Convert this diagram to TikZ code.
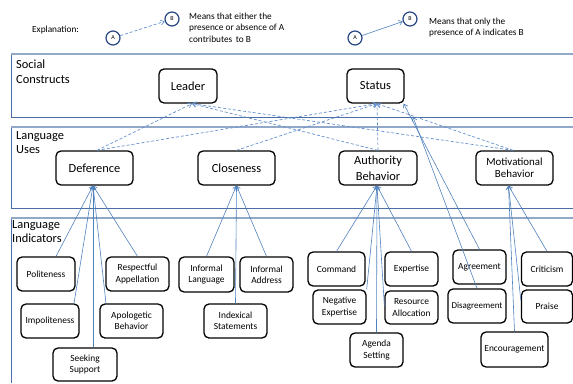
\documentclass[tikz,border=0pt]{standalone}
\usepackage{fontspec}
\setmainfont{Carlito}
\usetikzlibrary{arrows.meta}
\definecolor{lineblue}{RGB}{79,129,189}
\definecolor{dashblue}{RGB}{100,145,205}
\definecolor{paneltop}{RGB}{145,168,200}
\definecolor{paneledge}{RGB}{75,110,165}
\definecolor{circblue}{RGB}{40,70,130}
\tikzset{
 box/.style={draw=black, line width=1.3pt, rounded corners=5pt, align=center, inner sep=0pt, minimum height=34pt},
 bigbox/.style={box, font=\fontsize{12.4}{15.5}\selectfont},
 smallbox/.style={box, font=\fontsize{9.4}{11.3}\selectfont},
 solidarr/.style={draw=lineblue, line width=0.6pt, -{Straight Barb[length=3.5pt,width=5pt]}},
 dasharr/.style={draw=dashblue, line width=0.7pt, dash pattern=on 3pt off 2pt, -{Straight Barb[length=3.5pt,width=5pt]}},
 circ/.style={circle, draw=circblue, line width=1.2pt, minimum size=14pt, inner sep=0pt, font=\fontsize{6}{6}\selectfont},
 lbl/.style={align=left, anchor=north west, inner sep=0pt, font=\fontsize{12.4}{14.5}\selectfont},
 expl/.style={align=left, anchor=west, inner sep=0pt, font=\fontsize{9.3}{11.5}\selectfont},
 ptop/.style={draw=paneltop, line width=1.4pt},
 pedge/.style={draw=paneledge, line width=0.8pt},
}
\begin{document}
\begin{tikzpicture}[x=1pt,y=-1pt]
\useasboundingbox (0,0) rectangle (573,383);
% panels
\draw[pedge] (573,117) -- (11,117) -- (11,54);
\draw[ptop] (11,54) -- (573,54);
\draw[pedge] (573,208) -- (11,208) -- (11,127);
\draw[ptop] (11,127) -- (573,127);
\draw[pedge] (11,383) -- (11,218);
\draw[ptop] (11,218) -- (573,218);
\node[lbl] (lsc) at (16,60) {Social\\Constructs};
\node[lbl] (llu) at (16,131) {Language\\Uses};
\node[lbl] (lli) at (12,220) {Language\\Indicators};
% explanation
\node[expl] (expl) at (32,30) {Explanation:};
\node[circ] (a1) at (113,38) {A};
\node[circ] (b1) at (172,19) {B};
\draw[dasharr] (a1) -- (b1);
\node[expl] (t1) at (189,27.5) {Means that either the\\presence or absence of A\\contributes\, to B};
\node[circ] (a2) at (355,38) {A};
\node[circ] (b2) at (410,19) {B};
\draw[solidarr] (a2) -- (b2);
\node[expl] (t2) at (429,27.5) {Means that only the\\presence of A indicates B};
% social constructs
\node[bigbox, minimum width=58pt] (leader) at (188,86) {Leader};
\node[bigbox, minimum width=57pt] (status) at (375.5,86) {Status};
% language uses
\node[bigbox, minimum width=77pt] (defer) at (94.5,168) {Deference};
\node[bigbox, minimum width=77pt] (close) at (236.5,168) {Closeness};
\node[bigbox, minimum width=78pt] (auth) at (378,168) {Authority\\Behavior};
\node[box, minimum width=77pt, font=\fontsize{10.9}{12.5}\selectfont] (motiv) at (514.5,168) {Motivational\\Behavior};
% language indicators
\node[smallbox, minimum width=58pt] (polite) at (46,274) {Politeness};
\node[smallbox, minimum width=63pt] (respect) at (137.5,274) {Respectful\\Appellation};
\node[smallbox, minimum width=58pt] (impolite) at (50,321) {Impoliteness};
\node[smallbox, minimum width=63pt] (apolog) at (131.5,321) {Apologetic\\Behavior};
\node[smallbox, minimum width=64pt, minimum height=33pt] (seeking) at (85,364.5) {Seeking\\Support};
\node[smallbox, minimum width=55pt, minimum height=35pt] (inflang) at (206.5,274.5) {Informal\\Language};
\node[smallbox, minimum width=53pt, minimum height=35pt] (infaddr) at (266.5,274.5) {Informal\\Address};
\node[smallbox, minimum width=63pt] (indexical) at (235.5,321) {Indexical\\Statements};
\node[smallbox, minimum width=57pt] (command) at (336.5,269) {Command};
\node[smallbox, minimum width=53pt] (negexp) at (339.5,307) {Negative\\Expertise};
\node[smallbox, minimum width=53pt] (agenda) at (376.5,350) {Agenda\\Setting};
\node[smallbox, minimum width=53pt] (expertise) at (411.5,269) {Expertise};
\node[smallbox, minimum width=53pt, minimum height=33pt] (resource) at (411.5,307.5) {Resource\\Allocation};
\node[smallbox, minimum width=53pt] (agree) at (479.5,267) {Agreement};
\node[smallbox, minimum width=58pt, font=\fontsize{9}{11}\selectfont] (disagree) at (477,306) {Disagreement};
\node[smallbox, minimum width=51pt] (criticism) at (547,269) {Criticism};
\node[smallbox, minimum width=51pt, minimum height=33pt] (praise) at (547,306.5) {Praise};
\node[smallbox, minimum width=67pt, minimum height=35pt] (encour) at (514.5,349.5) {Encouragement};
\coordinate (disend) at (413,117);
% dashed: uses -> constructs
\draw[dasharr] ([xshift=2.5pt]defer.north) -- ([xshift=4pt]leader.south);
\draw[dasharr] ([xshift=2.5pt]defer.north) -- ([xshift=1.5pt]status.south);
\draw[dasharr] (close.north) -- ([xshift=1.5pt]status.south);
\draw[dasharr] (auth.north) -- ([xshift=4pt]leader.south);
\draw[dasharr] (auth.north) -- ([xshift=1.5pt]status.south);
\draw[dasharr] ([xshift=-1.5pt]motiv.north) -- ([xshift=4pt]leader.south);
\draw[dasharr] ([xshift=-1.5pt]motiv.north) -- ([xshift=1.5pt]status.south);
% solid: indicators -> uses
\draw[solidarr] ([xshift=10pt]polite.north) -- ([xshift=-1.5pt]defer.south);
\draw[solidarr] (respect.north) -- ([xshift=-1.5pt]defer.south);
\draw[solidarr] ([xshift=24pt]impolite.north) -- ([xshift=-1.5pt]defer.south);
\draw[solidarr] ([xshift=-25.5pt]apolog.north) -- ([xshift=-1.5pt]defer.south);
\draw[solidarr] ([xshift=8pt]seeking.north) -- ([xshift=-1.5pt]defer.south);
\draw[solidarr] (inflang.north) -- (close.south);
\draw[solidarr] (infaddr.north) -- (close.south);
\draw[solidarr] (indexical.north) -- (close.south);
\draw[solidarr] (command.north) -- ([xshift=-1pt]auth.south);
\draw[solidarr] (negexp.north east) -- ([xshift=-1pt]auth.south);
\draw[solidarr] (agenda.north) -- ([xshift=-1pt]auth.south);
\draw[solidarr] (expertise.north) -- ([xshift=-1pt]auth.south);
\draw[solidarr] ([yshift=2pt]resource.west) -- ([xshift=-1pt]auth.south);
\draw[solidarr] (criticism.north) -- ([xshift=-6pt]motiv.south);
\draw[solidarr] ([yshift=6pt]praise.west) -- ([xshift=-6pt]motiv.south);
\draw[solidarr] (encour.north) -- ([xshift=-6pt]motiv.south);
\draw[solidarr] (agree.north) -- ([xshift=-1pt]status.south east);
\draw[solidarr] (disagree.north) -- (disend);
\end{tikzpicture}
\end{document}
